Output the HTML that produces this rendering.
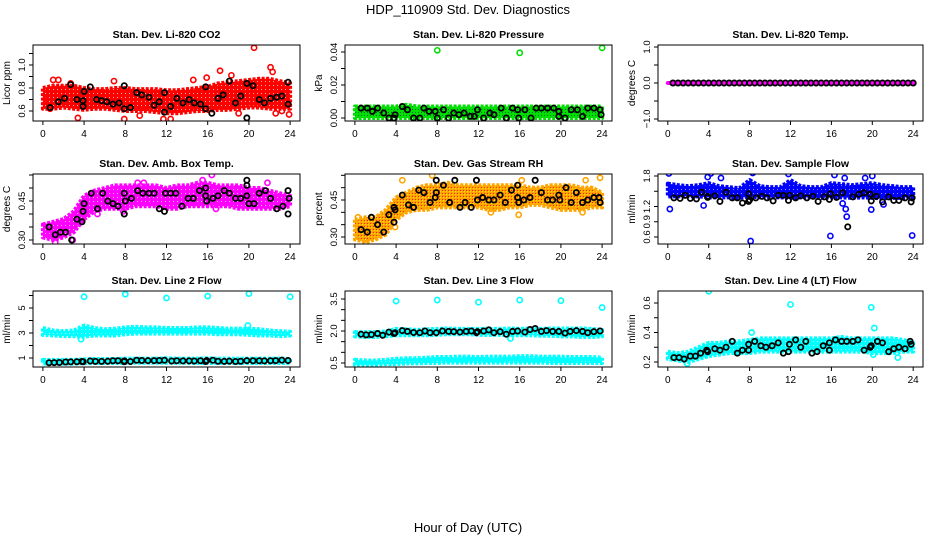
<!DOCTYPE html>
<html><head><meta charset="utf-8"><style>
html,body{margin:0;padding:0;background:#fff}
svg{display:block;font-family:"Liberation Sans",Arial,sans-serif}
</style></head><body>
<svg id="c" width="936" height="540" viewBox="0 0 936 540">
<defs id="defs">
<pattern id="pgreen" width="3" height="3" patternUnits="userSpaceOnUse"><rect width="3" height="3" fill="#00e000"/><rect x="1" y="1" width="1" height="1" fill="#063"/></pattern>
<pattern id="porange" width="3" height="3" patternUnits="userSpaceOnUse"><rect width="3" height="3" fill="#ffa500"/><rect x="1" y="1" width="1" height="1" fill="#ff2000"/><rect x="2" y="2" width="1" height="1" fill="#ffe000"/></pattern>
<pattern id="pred" width="4" height="4" patternUnits="userSpaceOnUse"><rect width="4" height="4" fill="#ff0000"/><rect x="1" y="1" width="1" height="1" fill="#ffb0b0"/></pattern>
<pattern id="pmag" width="4" height="4" patternUnits="userSpaceOnUse"><rect width="4" height="4" fill="#ff00ff"/><rect x="1" y="1" width="1" height="1" fill="#ffb0ff"/></pattern>
<pattern id="pblue" width="4" height="4" patternUnits="userSpaceOnUse"><rect width="4" height="4" fill="#0000ff"/><rect x="1" y="1" width="1" height="1" fill="#9090ff"/></pattern>
<pattern id="pcyan" width="4" height="4" patternUnits="userSpaceOnUse"><rect width="4" height="4" fill="#00ffff"/><rect x="1" y="1" width="1" height="1" fill="#b0ffff"/></pattern>
</defs>
<text x="468" y="14" text-anchor="middle" font-size="13">HDP_110909  Std. Dev. Diagnostics</text>
<text x="468" y="532" text-anchor="middle" font-size="13">Hour of Day (UTC)</text>
</svg>
<script>
const hours = [0,1,2,3,4,5,6,7,8,9,10,11,12,13,14,15,16,17,18,19,20,21,22,23,24];
const xTicks = [0,4,8,12,16,20,24];

// Panel 1: CO2
const co2Lo = [0.62,0.62,0.63,0.62,0.61,0.62,0.62,0.61,0.60,0.60,0.60,0.59,0.58,0.58,0.59,0.60,0.60,0.61,0.61,0.62,0.63,0.63,0.62,0.62,0.62];
const co2Hi = [0.80,0.82,0.82,0.82,0.80,0.79,0.79,0.80,0.80,0.79,0.79,0.79,0.78,0.78,0.79,0.80,0.81,0.84,0.85,0.86,0.87,0.88,0.88,0.86,0.84];
const co2Out = [[0.3,0.70],[0.7,0.62],[1,0.87],[1.5,0.87],[2.7,0.84],[3.4,0.54],[6.9,0.86],[7.9,0.53],[9.4,0.56],[11.7,0.53],[12.4,0.53],[14.6,0.87],[15.9,0.89],[17.2,0.95],[18.3,0.91],[19,0.58],[20.5,1.15],[22.1,0.98],[22.3,0.94],[22.6,0.58],[23.2,0.60],[23.9,0.57]];
const co2Black = [[0.7,0.63],[1.5,0.68],[2.1,0.71],[2.7,0.83],[3.3,0.70],[3.9,0.69],[3.9,0.64],[4.0,0.77],[4.6,0.81],[5.2,0.70],[5.7,0.69],[6.2,0.68],[6.8,0.66],[7.4,0.67],[7.9,0.62],[7.9,0.82],[8.5,0.63],[9.1,0.76],[9.6,0.74],[10.3,0.72],[10.8,0.65],[11.3,0.68],[11.8,0.76],[11.8,0.59],[12.4,0.64],[13.0,0.71],[13.6,0.67],[14.2,0.70],[14.7,0.67],[15.3,0.66],[15.8,0.62],[15.8,0.81],[16.4,0.58],[17.0,0.71],[17.5,0.74],[18.1,0.86],[18.7,0.67],[19.2,0.73],[19.8,0.54],[19.8,0.84],[20.4,0.82],[21.0,0.70],[21.5,0.67],[22.1,0.71],[22.7,0.72],[23.2,0.73],[23.8,0.85],[23.8,0.66]];
const co2Ticks = [0.6,0.7,0.8,0.9,1.0,1.1];
const co2Labels = ["0.6","","0.8","","1.0",""];

// Panel 2: Pressure
const prLo = [0,0,0,0,0,0,0,0,0,0,0,0,0,0,0,0,0,0,0,0,0,0,0,0,0];
const prHi = [0.007,0.007,0.007,0.007,0.007,0.008,0.007,0.007,0.007,0.007,0.007,0.007,0.007,0.007,0.007,0.007,0.007,0.007,0.007,0.007,0.007,0.007,0.007,0.007,0.007];
const prOut = [[8.0,0.041],[16,0.0395],[24,0.0425]];
const prBlack = [[0.6,0.006],[1.2,0.006],[1.7,0.004],[2.2,0.006],[2.8,0.003],[3.3,0],[3.8,0],[3.9,0.002],[4.6,0.007],[5.1,0.005],[5.7,0],[6.3,0],[6.7,0.006],[7.2,0.004],[7.8,0.004],[8.0,0],[8.6,0.005],[9.1,0],[9.6,0.003],[10.1,0.002],[10.6,0.003],[11.2,0.001],[11.6,0.001],[11.9,0.005],[12.5,0],[13.1,0.003],[13.5,0.002],[14.2,0.006],[14.7,0],[15.3,0.006],[15.8,0.005],[15.9,0],[16.5,0.005],[17.1,0],[17.6,0.006],[18.1,0.006],[18.7,0.006],[19.3,0.006],[19.8,0.001],[19.8,0.004],[20.4,0],[21,0.005],[21.6,0.005],[22.1,0.001],[22.6,0.006],[23.2,0.006],[23.8,0.005],[23.9,0.002]];
const prTicks = [0,0.01,0.02,0.03,0.04];
const prLabels = ["0.00","","0.02","","0.04"];

// Panel 3: Li-820 Temp
const tLo = [0,0,0,0,0,0,0,0,0,0,0,0,0,0,0,0,0,0,0,0,0,0,0,0,0];
const tHi = [0,0,0,0,0,0,0,0,0,0,0,0,0,0,0,0,0,0,0,0,0,0,0,0,0];
const tOut = [];
const tBlack = [[0.5,0],[1,0],[1.5,0],[2,0],[2.5,0],[3,0],[3.5,0],[4,0],[4.5,0],[5,0],[5.5,0],[6,0],[6.5,0],[7,0],[7.5,0],[8,0],[8.5,0],[9,0],[9.5,0],[10,0],[10.5,0],[11,0],[11.5,0],[12,0],[12.5,0],[13,0],[13.5,0],[14,0],[14.5,0],[15,0],[15.5,0],[16,0],[16.5,0],[17,0],[17.5,0],[18,0],[18.5,0],[19,0],[19.5,0],[20,0],[20.5,0],[21,0],[21.5,0],[22,0],[22.5,0],[23,0],[23.5,0],[24,0]];
const tTicks = [-1,-0.5,0,0.5,1];
const tLabels = ["-1.0","","0.0","","1.0"];

// Panel 4: Amb Box Temp
const abLo = [0.31,0.30,0.31,0.33,0.38,0.41,0.42,0.42,0.42,0.43,0.43,0.43,0.42,0.42,0.43,0.43,0.43,0.43,0.43,0.42,0.42,0.42,0.42,0.42,0.43];
const abHi = [0.36,0.37,0.38,0.41,0.47,0.49,0.50,0.51,0.51,0.51,0.51,0.51,0.50,0.51,0.51,0.52,0.52,0.51,0.51,0.51,0.50,0.50,0.49,0.48,0.47];
const abOut = [[1.2,0.29],[2.9,0.30],[5.3,0.40],[7.8,0.41],[9.2,0.52],[9.8,0.52],[15.5,0.53],[16.4,0.55],[16.8,0.42],[21.8,0.52]];
const abBlack = [[0.6,0.35],[1.2,0.32],[1.7,0.33],[2.2,0.33],[2.8,0.30],[3.3,0.38],[3.8,0.37],[3.9,0.41],[4.0,0.44],[4.7,0.48],[5.3,0.42],[5.8,0.48],[6.3,0.45],[6.8,0.44],[7.3,0.43],[7.9,0.40],[7.9,0.48],[8.0,0.45],[8.6,0.46],[9.2,0.49],[9.7,0.48],[10.3,0.48],[10.8,0.48],[11.3,0.42],[11.8,0.41],[11.9,0.48],[12.4,0.48],[12.9,0.48],[13.5,0.43],[14.1,0.46],[14.6,0.46],[15.2,0.49],[15.8,0.50],[15.8,0.47],[15.9,0.45],[16.5,0.46],[17.0,0.47],[17.6,0.49],[18.1,0.48],[18.7,0.46],[19.2,0.46],[19.8,0.53],[19.8,0.51],[19.8,0.47],[20.0,0.44],[20.5,0.44],[21.0,0.48],[21.6,0.49],[22.1,0.46],[22.7,0.42],[23.3,0.43],[23.8,0.40],[23.8,0.49],[23.9,0.46]];
const abTicks = [0.30,0.35,0.40,0.45,0.50,0.55];
const abLabels = ["0.30","","","0.45","",""];

// Panel 5: Gas Stream RH
const rhLo = [0.29,0.28,0.29,0.31,0.37,0.40,0.41,0.41,0.42,0.42,0.42,0.42,0.42,0.41,0.41,0.42,0.42,0.43,0.43,0.42,0.41,0.41,0.41,0.42,0.42];
const rhHi = [0.37,0.38,0.38,0.41,0.46,0.48,0.50,0.51,0.51,0.52,0.51,0.51,0.51,0.51,0.51,0.51,0.51,0.50,0.50,0.51,0.51,0.51,0.50,0.50,0.48];
const rhOut = [[0.3,0.38],[1.1,0.27],[3.9,0.34],[4.6,0.53],[7.5,0.55],[13.2,0.40],[15.9,0.39],[16.2,0.53],[22.1,0.40],[22.4,0.53],[23.8,0.54]];
const rhBlack = [[0.6,0.33],[1.2,0.32],[1.6,0.38],[2.2,0.35],[2.8,0.32],[3.3,0.39],[3.8,0.36],[3.8,0.42],[3.9,0.41],[4.6,0.47],[5.2,0.43],[5.7,0.42],[6.2,0.49],[6.7,0.48],[7.3,0.44],[7.8,0.46],[7.9,0.48],[7.9,0.53],[8.6,0.51],[9.2,0.44],[9.7,0.53],[10.2,0.42],[10.7,0.44],[11.3,0.42],[11.8,0.53],[11.9,0.45],[12.4,0.46],[13.0,0.45],[13.5,0.45],[14.1,0.47],[14.6,0.44],[15.2,0.49],[15.8,0.51],[15.8,0.46],[15.9,0.44],[16.4,0.45],[17.0,0.46],[17.5,0.53],[18.1,0.48],[18.7,0.45],[19.2,0.45],[19.8,0.47],[19.9,0.45],[20.5,0.50],[21.0,0.44],[21.5,0.48],[22.1,0.44],[22.6,0.45],[23.2,0.46],[23.7,0.46],[23.8,0.44]];
const rhTicks = [0.30,0.35,0.40,0.45,0.50,0.55];
const rhLabels = ["0.30","","","0.45","",""];

// Panel 6: Sample Flow
const sfLo = [1.40,1.40,1.40,1.40,1.38,1.38,1.38,1.37,1.40,1.38,1.38,1.38,1.37,1.38,1.38,1.37,1.38,1.38,1.37,1.38,1.37,1.36,1.37,1.37,1.38];
const sfHi = [1.65,1.62,1.60,1.62,1.66,1.60,1.58,1.56,1.72,1.60,1.58,1.58,1.72,1.60,1.58,1.58,1.66,1.64,1.62,1.64,1.66,1.62,1.60,1.58,1.58];
const sfOut = [[0.1,1.85],[0.2,1.15],[3.5,1.22],[3.9,1.78],[4.2,1.85],[5.2,1.76],[8.1,0.52],[8.3,1.86],[11.8,1.84],[15.9,0.62],[16.3,1.82],[17.1,1.26],[17.3,1.76],[17.4,1.15],[17.5,1.0],[19.3,1.76],[19.9,1.14],[20.0,1.80],[21.1,1.24],[23.9,0.63]];
const sfBlack = [[0.6,1.37],[1.2,1.36],[1.7,1.42],[2.2,1.36],[2.8,1.35],[3.3,1.48],[3.9,1.40],[3.9,1.38],[4.6,1.41],[5.1,1.30],[5.7,1.48],[6.3,1.37],[6.8,1.37],[7.3,1.27],[7.9,1.30],[7.9,1.45],[8.0,1.33],[8.6,1.37],[9.2,1.40],[9.7,1.37],[10.3,1.31],[10.8,1.42],[11.3,1.42],[11.8,1.32],[11.9,1.42],[12.5,1.37],[13.0,1.41],[13.6,1.37],[14.2,1.40],[14.7,1.30],[15.3,1.39],[15.8,1.34],[15.9,1.45],[16.5,1.38],[17.1,1.47],[17.6,0.80],[18.1,1.39],[18.7,1.44],[19.2,1.47],[19.8,1.44],[19.9,1.31],[20.4,1.40],[21.0,1.29],[21.6,1.39],[22.1,1.32],[22.6,1.32],[23.2,1.37],[23.8,1.29],[23.9,1.37]];
const sfTicks = [0.6,0.9,1.2,1.5,1.8];
const sfLabels = ["0.6","0.9","1.2","","1.8"];

// Panel 7: Line 2 Flow (two bands)
const l2Lo = [2.85,2.8,2.75,2.75,2.7,2.8,2.8,2.8,2.9,2.95,2.95,2.95,2.95,2.95,2.95,2.95,2.95,2.9,2.9,2.9,2.85,2.8,2.8,2.75,2.8];
const l2Hi = [3.4,3.2,3.15,3.2,3.6,3.4,3.3,3.35,3.45,3.5,3.45,3.45,3.4,3.4,3.4,3.45,3.45,3.4,3.35,3.35,3.35,3.3,3.2,3.15,3.1];
const l2bLo = [0.55,0.55,0.55,0.55,0.58,0.6,0.6,0.6,0.6,0.62,0.62,0.62,0.62,0.62,0.62,0.6,0.6,0.6,0.6,0.6,0.6,0.6,0.6,0.6,0.6];
const l2bHi = [0.85,0.85,0.85,0.85,0.9,0.92,0.92,0.92,0.95,0.95,0.95,0.95,0.98,0.95,0.95,0.95,0.98,0.95,0.95,0.95,0.95,0.95,0.95,0.95,0.92];
const l2Out = [[4,5.9],[8,6.1],[12,5.8],[16,5.95],[20,6.15],[24,5.9],[3.7,2.5],[19.9,3.6]];
const l2Black = [[0.6,0.62],[1.1,0.63],[1.6,0.64],[2.2,0.68],[2.7,0.69],[3.3,0.7],[3.8,0.72],[3.9,0.7],[4.6,0.76],[5.1,0.73],[5.7,0.73],[6.3,0.74],[6.8,0.78],[7.3,0.78],[7.9,0.77],[7.9,0.7],[8.5,0.72],[9.1,0.82],[9.6,0.8],[10.2,0.79],[10.8,0.79],[11.3,0.8],[11.8,0.82],[12.5,0.76],[13.0,0.78],[13.6,0.77],[14.2,0.77],[14.7,0.76],[15.3,0.78],[15.8,0.72],[15.9,0.8],[16.5,0.82],[17.0,0.74],[17.6,0.73],[18.1,0.75],[18.7,0.72],[19.2,0.74],[19.8,0.79],[20.4,0.78],[21,0.78],[21.5,0.77],[22.1,0.78],[22.6,0.79],[23.2,0.83],[23.8,0.8]];
const l2Ticks = [1,2,3,4,5,6];
const l2Labels = ["1","","3","","5",""];

// Panel 8: Line 3 Flow (two bands)
const l3Lo = [1.75,1.72,1.72,1.75,1.8,1.8,1.8,1.8,1.82,1.85,1.85,1.85,1.82,1.82,1.82,1.8,1.8,1.8,1.78,1.78,1.75,1.75,1.72,1.72,1.75];
const l3Hi = [1.95,1.95,1.95,1.98,2.1,2.08,2.05,2.08,2.1,2.12,2.1,2.1,2.1,2.1,2.1,2.12,2.1,2.12,2.1,2.12,2.12,2.12,2.12,2.1,2.05];
const l3bLo = [0.42,0.42,0.42,0.45,0.45,0.48,0.48,0.5,0.5,0.52,0.52,0.52,0.52,0.52,0.52,0.52,0.52,0.52,0.52,0.5,0.5,0.5,0.5,0.5,0.5];
const l3bHi = [0.65,0.62,0.62,0.65,0.7,0.72,0.72,0.75,0.78,0.78,0.8,0.8,0.78,0.8,0.8,0.8,0.82,0.82,0.8,0.8,0.8,0.78,0.78,0.78,0.75];
const l3Out = [[4,3.4],[8,3.45],[12,3.35],[16,3.45],[20,3.42],[24,3.1],[15.1,1.65]];
const l3Black = [[0.6,1.85],[1.1,1.82],[1.6,1.83],[2.2,1.88],[2.7,1.8],[3.3,1.95],[3.8,1.88],[3.9,1.92],[4.6,2.02],[5.1,1.98],[5.7,1.93],[6.3,1.92],[6.8,2.0],[7.3,1.92],[7.9,1.92],[8.5,2.0],[9.1,1.98],[9.6,1.97],[10.2,1.95],[10.8,1.98],[11.3,2.0],[11.8,1.92],[11.9,1.97],[12.5,2.0],[13.0,2.05],[13.5,1.92],[14.1,1.97],[14.7,1.85],[15.3,1.98],[15.8,2.0],[16.5,1.95],[17.0,2.07],[17.5,2.12],[18.1,1.98],[18.6,2.02],[19.2,1.98],[19.8,1.98],[20.4,1.9],[20.9,1.98],[21.5,2.02],[22.1,1.98],[22.6,1.92],[23.2,1.97],[23.8,2.0]];
const l3Ticks = [0.5,1.0,1.5,2.0,2.5,3.0,3.5];
const l3Labels = ["0.5","","","2.0","","","3.5"];

// Panel 9: Line 4 (LT) Flow
const l4Lo = [0.22,0.21,0.2,0.22,0.24,0.25,0.26,0.26,0.26,0.27,0.27,0.27,0.27,0.27,0.27,0.27,0.27,0.27,0.27,0.27,0.26,0.26,0.26,0.27,0.27];
const l4Hi = [0.27,0.26,0.27,0.3,0.33,0.33,0.34,0.34,0.35,0.36,0.36,0.36,0.36,0.36,0.36,0.36,0.36,0.37,0.36,0.36,0.36,0.36,0.36,0.35,0.33];
const l4Out = [[4,0.68],[12,0.59],[19.9,0.57],[20.1,0.25],[20.2,0.43],[22.5,0.23],[8.2,0.40],[1.9,0.19]];
const l4Black = [[0.6,0.23],[1.1,0.23],[1.6,0.22],[2.2,0.24],[2.7,0.24],[3.2,0.26],[3.8,0.28],[3.9,0.27],[4.6,0.29],[5.1,0.28],[5.7,0.3],[6.3,0.34],[6.8,0.26],[7.3,0.28],[7.9,0.28],[7.9,0.32],[8.5,0.34],[9.1,0.31],[9.6,0.3],[10.2,0.31],[10.8,0.33],[11.3,0.26],[11.8,0.27],[11.9,0.32],[12.5,0.35],[13.0,0.3],[13.5,0.34],[14.1,0.26],[14.6,0.27],[15.2,0.31],[15.8,0.28],[15.8,0.33],[16.4,0.35],[17.0,0.34],[17.5,0.34],[18.1,0.34],[18.6,0.35],[19.2,0.28],[19.8,0.3],[19.9,0.31],[20.5,0.34],[21.0,0.33],[21.6,0.27],[22.1,0.29],[22.6,0.3],[23.2,0.29],[23.7,0.34],[23.8,0.32]];
const l4Ticks = [0.2,0.3,0.4,0.5,0.6];
const l4Labels = ["0.2","","0.4","","0.6"];

const NS = "http://www.w3.org/2000/svg";
const svg = document.getElementById('c');
function mk(tag, attrs, parent){
  const e = document.createElementNS(NS, tag);
  for (const k in attrs) e.setAttribute(k, attrs[k]);
  (parent||svg).appendChild(e);
  return e;
}

const cols = [[33,300],[345,612],[658,923]];
const rows = [[45,121],[174,244],[291,367]];

const panels = [
 {id:'co2',title:'Stan. Dev. Li-820 CO2',ylab:'Licor ppm',c:0,r:0,y0:0.6,p0:111,y1:1.0,p1:65,col:'#ff0000',fill:'url(#pred)',bands:[[co2Lo,co2Hi]],out:co2Out,black:co2Black,ticks:co2Ticks,labels:co2Labels},
 {id:'pressure',title:'Stan. Dev. Li-820 Pressure',ylab:'kPa',c:1,r:0,y0:0,p0:118,y1:0.04,p1:52,col:'#00e000',fill:'url(#pgreen)',bands:[[prLo,prHi]],out:prOut,black:prBlack,ticks:prTicks,labels:prLabels},
 {id:'temp',title:'Stan. Dev. Li-820 Temp.',ylab:'degrees C',c:2,r:0,y0:-1,p0:119,y1:1,p1:47,col:'#ff00ff',bands:[[tLo,tHi]],out:tOut,black:tBlack,ticks:tTicks,labels:tLabels},
 {id:'ambbox',title:'Stan. Dev. Amb. Box Temp.',ylab:'degrees C',c:0,r:1,y0:0.30,p0:240,y1:0.45,p1:201,col:'#ff00ff',fill:'url(#pmag)',bands:[[abLo,abHi]],out:abOut,black:abBlack,ticks:abTicks,labels:abLabels},
 {id:'rh',title:'Stan. Dev. Gas Stream RH',ylab:'percent',c:1,r:1,y0:0.30,p0:237,y1:0.45,p1:200,col:'#ffa500',fill:'url(#porange)',bands:[[rhLo,rhHi]],out:rhOut,black:rhBlack,ticks:rhTicks,labels:rhLabels},
 {id:'sampleflow',title:'Stan. Dev. Sample Flow',ylab:'ml/min',c:2,r:1,y0:0.6,p0:237,y1:1.8,p1:176,col:'#0000ff',fill:'url(#pblue)',bands:[[sfLo,sfHi]],out:sfOut,black:sfBlack,ticks:sfTicks,labels:sfLabels},
 {id:'line2',title:'Stan. Dev. Line 2 Flow',ylab:'ml/min',c:0,r:2,y0:1,p0:358,y1:5,p1:308,col:'#00ffff',fill:'url(#pcyan)',bands:[[l2Lo,l2Hi],[l2bLo,l2bHi]],out:l2Out,black:l2Black,ticks:l2Ticks,labels:l2Labels},
 {id:'line3',title:'Stan. Dev. Line 3 Flow',ylab:'ml/min',c:1,r:2,y0:0.5,p0:363,y1:3.5,p1:299,col:'#00ffff',fill:'url(#pcyan)',bands:[[l3Lo,l3Hi],[l3bLo,l3bHi]],out:l3Out,black:l3Black,ticks:l3Ticks,labels:l3Labels},
 {id:'line4',title:'Stan. Dev. Line 4 (LT) Flow',ylab:'ml/min',c:2,r:2,y0:0.2,p0:362,y1:0.6,p1:303,col:'#00ffff',fill:'url(#pcyan)',bands:[[l4Lo,l4Hi]],out:l4Out,black:l4Black,ticks:l4Ticks,labels:l4Labels}
];

panels.forEach(p=>{
  const [L,R] = cols[p.c], [T,B] = rows[p.r];
  const sx = v => L + (R-L)*(v+0.96)/25.92;
  const sy = v => p.p0 + (v-p.y0)*(p.p1-p.p0)/(p.y1-p.y0);
  const g = mk('g',{});
  
  
  const clip = mk('clipPath',{id:'clip-'+p.id}, g);
  mk('rect',{x:L,y:T,width:R-L,height:B-T}, clip);
  const plot = mk('g',{'clip-path':'url(#clip-'+p.id+')'}, g);
  
  
  p.bands.forEach((b,bi)=>{
    const lo=b[0], hi=b[1];
    let pts = hours.map((h,i)=>sx(h)+','+sy(hi[i]));
    pts = pts.concat(hours.slice().reverse().map((h,j)=>{const i=hours.length-1-j;return sx(h)+','+sy(lo[i]);}));
    const poly = mk('polygon',{points:pts.join(' '),fill:p.fill||p.col,stroke:p.col,'stroke-width':4,'stroke-linejoin':'round','stroke-dasharray':'3 1.5'}, plot);
    
    
  });
  p.out.forEach(pt=>{
    const c = mk('circle',{cx:sx(pt[0]),cy:sy(pt[1]),r:2.6,fill:'none',stroke:p.col,'stroke-width':1.6}, plot);
    
    
  });
  p.black.forEach(pt=>{
    const c = mk('circle',{cx:sx(pt[0]),cy:sy(pt[1]),r:2.6,fill:'none',stroke:'#000','stroke-width':1.8}, plot);
    
    
  });
  const box = mk('rect',{x:L,y:T,width:R-L,height:B-T,fill:'none',stroke:'#000','stroke-width':1}, g);
  
  
  const ax = mk('g',{}, g);
  
  
  mk('line',{x1:sx(0),x2:sx(24),y1:B,y2:B,stroke:'#000'}, ax);
  xTicks.forEach(t=>{
    mk('line',{x1:sx(t),x2:sx(t),y1:B,y2:B+4,stroke:'#000'}, ax);
    const tx = mk('text',{x:sx(t),y:B+16,'text-anchor':'middle','font-size':10}, ax);
    tx.textContent = t;
    
    
  });
  const ay = mk('g',{}, g);
  
  
  mk('line',{x1:L,x2:L,y1:sy(p.ticks[0]),y2:sy(p.ticks[p.ticks.length-1]),stroke:'#000'}, ay);
  p.ticks.forEach((t,i)=>{
    mk('line',{x1:L-4,x2:L,y1:sy(t),y2:sy(t),stroke:'#000'}, ay);
    if (p.labels[i]) {
      const tx = mk('text',{x:L-8,y:sy(t),'text-anchor':'middle','font-size':9.5,transform:'rotate(-90 '+(L-8)+' '+sy(t)+')'}, ay);
      tx.textContent = p.labels[i].replace('-','\u2212');
      
      
    }
  });
  const yl = mk('text',{x:L-23,y:(T+B)/2,'text-anchor':'middle','font-size':10,transform:'rotate(-90 '+(L-23)+' '+((T+B)/2)+')'}, g);
  yl.textContent = p.ylab;
  
  
  const ti = mk('text',{x:(L+R)/2,y:T-7,'text-anchor':'middle','font-size':10.5,'font-weight':'bold'}, g);
  ti.textContent = p.title;
  
  
});
</script>
</body></html>
